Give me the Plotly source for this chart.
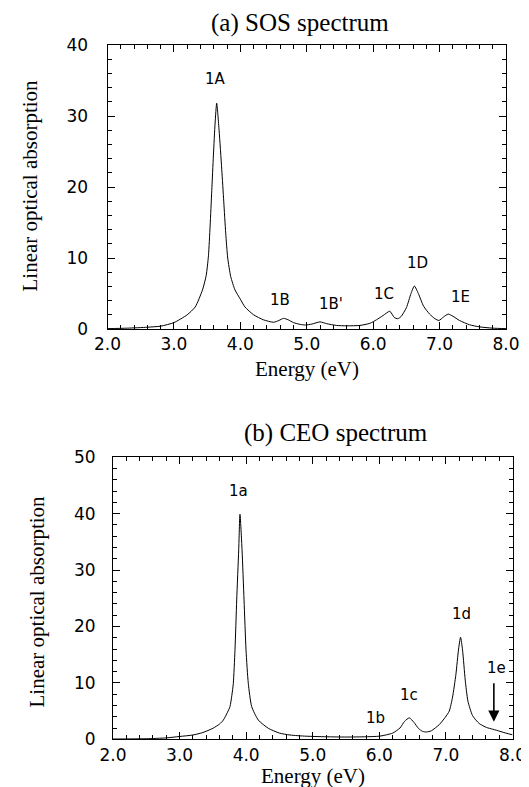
import plotly.graph_objects as go

# ---------------- data ----------------
sos_energy = [2.0, 2.3, 2.6, 2.8, 3.0, 3.2, 3.32, 3.43, 3.485, 3.52, 3.545, 3.57, 3.595, 3.62, 3.644,
              3.68, 3.72, 3.75, 3.78, 3.81, 3.855, 3.92, 4.0, 4.07, 4.2, 4.346, 4.5, 4.58, 4.65, 4.72,
              4.8, 4.9, 4.98, 5.08, 5.2, 5.3, 5.45, 5.6, 5.8, 5.95, 6.05, 6.15, 6.25, 6.32, 6.37,
              6.42, 6.5, 6.57, 6.62, 6.68, 6.76, 6.85, 6.93, 6.99, 7.06, 7.13, 7.2, 7.3, 7.45, 7.6,
              7.8, 8.0]
sos_absorption = [0.05, 0.12, 0.25, 0.4, 0.9, 2.0, 3.1, 5.5, 7.5, 10.3, 14.5, 19.5, 24.5, 29.0, 31.8,
                  28.0, 22.5, 18.0, 13.5, 10.0, 7.4, 5.5, 4.2, 3.1, 2.0, 1.3, 0.95, 1.2, 1.5, 1.3,
                  0.9, 0.65, 0.56, 0.7, 1.0, 0.75, 0.5, 0.45, 0.5, 0.8, 1.3, 1.9, 2.5, 1.6, 1.45,
                  1.75, 3.0, 5.0, 6.05, 5.0, 3.2, 2.1, 1.45, 1.2, 1.7, 2.1, 1.8, 1.2, 0.6, 0.3,
                  0.12, 0.05]

ceo_energy = [2.0, 2.5, 2.8, 3.0, 3.2, 3.35, 3.5, 3.6, 3.657, 3.72, 3.757, 3.785, 3.807, 3.832, 3.858,
              3.888, 3.907, 3.938, 3.968, 3.998, 4.032, 4.083, 4.183, 4.333, 4.5, 4.658, 4.9, 5.2,
              5.5, 5.8, 6.0, 6.11, 6.2, 6.31, 6.38, 6.45, 6.52, 6.59, 6.65, 6.71, 6.78, 6.9, 6.99,
              7.05, 7.1, 7.15, 7.19, 7.22, 7.25, 7.29, 7.33, 7.4, 7.5, 7.61, 7.7, 7.76, 7.9, 8.0]
ceo_absorption = [0.05, 0.1, 0.25, 0.5, 0.76, 1.2, 1.95, 2.7, 3.4, 4.8, 5.8, 7.8, 9.9, 15.8, 24.7,
                  33.6, 39.9, 33.6, 24.7, 15.8, 9.9, 5.8, 3.4, 1.95, 1.1, 0.76, 0.55, 0.45,
                  0.4, 0.45, 0.55, 0.8, 1.1, 2.0, 3.2, 3.8, 3.0, 1.9, 1.4, 1.3, 1.5, 2.6, 3.9,
                  5.0, 7.5, 11.5, 16.0, 18.1, 15.8, 10.5, 6.8, 4.2, 2.8, 2.1, 1.8, 1.6, 1.1, 0.8]

sos_peak_labels = ["1A", "1B", "1B'", "1C", "1D", "1E"]
sos_label_x = [3.63, 4.60, 5.36, 6.17, 6.66, 7.31]
sos_label_y = [35.2, 4.1, 3.5, 5.0, 9.25, 4.5]

ceo_peak_labels = ["1a", "1b", "1c", "1d", "1e"]
ceo_label_x = [3.89, 5.94, 6.44, 7.23, 7.76]
ceo_label_y = [44.1, 3.7, 7.9, 22.3, 12.6]

x_ticks = [2, 3, 4, 5, 6, 7, 8]
x_ticktext = ["2.0", "3.0", "4.0", "5.0", "6.0", "7.0", "8.0"]

# ---------------- layout helpers ----------------
W, H = 529, 787
OFF = 8  # the page body adds an 8px margin; positions below are page pixels


def fx(x):
    return (x - OFF) / W


def fy(y):
    return 1 - (y - OFF) / H


SERIF = "Liberation Serif"
SANS = "DejaVu Sans"

fig = go.Figure()
fig.add_trace(go.Scatter(x=sos_energy, y=sos_absorption, mode="lines",
                         line=dict(color="black", width=1, shape="spline", smoothing=0.6),
                         xaxis="x", yaxis="y", showlegend=False))
fig.add_trace(go.Scatter(x=ceo_energy, y=ceo_absorption, mode="lines",
                         line=dict(color="black", width=1, shape="spline", smoothing=0.6),
                         xaxis="x2", yaxis="y2", showlegend=False))

axis_common = dict(showline=True, linecolor="black", linewidth=1, mirror="ticks",
                   ticks="inside", ticklen=7, tickwidth=1, tickcolor="black",
                   showgrid=False, zeroline=False, automargin=False,
                   tickfont=dict(family=SANS, size=17, color="black"))

top_x0, top_x1, top_yt, top_yb = 107.5, 506, 45, 329
bot_x0, bot_x1, bot_yt, bot_yb = 113, 512.5, 457.3, 739.3

fig.update_layout(
    template="none",
    width=W, height=H,
    margin=dict(l=0, r=0, t=0, b=0, pad=0),
    paper_bgcolor="white", plot_bgcolor="white",
    font=dict(family=SANS, color="black"),
    xaxis=dict(axis_common, domain=[fx(top_x0), fx(top_x1)], range=[2, 8],
               tickvals=x_ticks, ticktext=x_ticktext, anchor="y",
               minor=dict(ticks="inside", dtick=0.2, ticklen=4, tickcolor="black")),
    yaxis=dict(axis_common, domain=[fy(top_yb), fy(top_yt)], range=[0, 40],
               dtick=10, anchor="x", ticklabelstandoff=15,
               minor=dict(ticks="inside", dtick=2, ticklen=4, tickcolor="black")),
    xaxis2=dict(axis_common, domain=[fx(bot_x0), fx(bot_x1)], range=[2, 8],
                tickvals=x_ticks, ticktext=x_ticktext, anchor="y2",
                minor=dict(ticks="inside", dtick=0.2, ticklen=4, tickcolor="black")),
    yaxis2=dict(axis_common, domain=[fy(bot_yb), fy(bot_yt)], range=[0, 50],
                dtick=10, anchor="x2", ticklabelstandoff=13,
                minor=dict(ticks="inside", dtick=2, ticklen=4, tickcolor="black")),
)

ann = []
# panel titles
for text, (cx, cy) in [("(a) SOS spectrum", (300, 23)), ("(b) CEO spectrum", (336, 433))]:
    ann.append(dict(text=text, x=fx(cx), y=fy(cy), xref="paper", yref="paper", showarrow=False,
                    xanchor="center", yanchor="middle",
                    font=dict(family=SERIF, size=25, color="black")))
# axis titles
for (cx, cy) in [(29.5, 186), (36.5, 602)]:
    ann.append(dict(text="Linear optical absorption", x=fx(cx), y=fy(cy), xref="paper",
                    yref="paper", showarrow=False, textangle=-90, xanchor="center",
                    yanchor="middle", font=dict(family=SERIF, size=21, color="black")))
for (cx, cy) in [(307, 369), (313, 776)]:
    ann.append(dict(text="Energy (eV)", x=fx(cx), y=fy(cy), xref="paper", yref="paper",
                    showarrow=False, xanchor="center", yanchor="middle",
                    font=dict(family=SERIF, size=21, color="black")))
# peak labels
for t, lx, ly in zip(sos_peak_labels, sos_label_x, sos_label_y):
    ann.append(dict(text=t, x=lx, y=ly, xref="x", yref="y", showarrow=False,
                    xanchor="center", yanchor="middle",
                    font=dict(family=SANS, size=15, color="black")))
for t, lx, ly in zip(ceo_peak_labels, ceo_label_x, ceo_label_y):
    ann.append(dict(text=t, x=lx, y=ly, xref="x2", yref="y2", showarrow=False,
                    xanchor="center", yanchor="middle",
                    font=dict(family=SANS, size=15, color="black")))
# arrow pointing at 1e
ann.append(dict(text="", x=7.72, y=3.1, ax=7.72, ay=10.2, xref="x2", yref="y2",
                axref="x2", ayref="y2", showarrow=True, arrowhead=2, arrowsize=1.4,
                arrowwidth=1.6, arrowcolor="black", standoff=0))

fig.update_layout(annotations=ann)
fig.write_html("out.html")
